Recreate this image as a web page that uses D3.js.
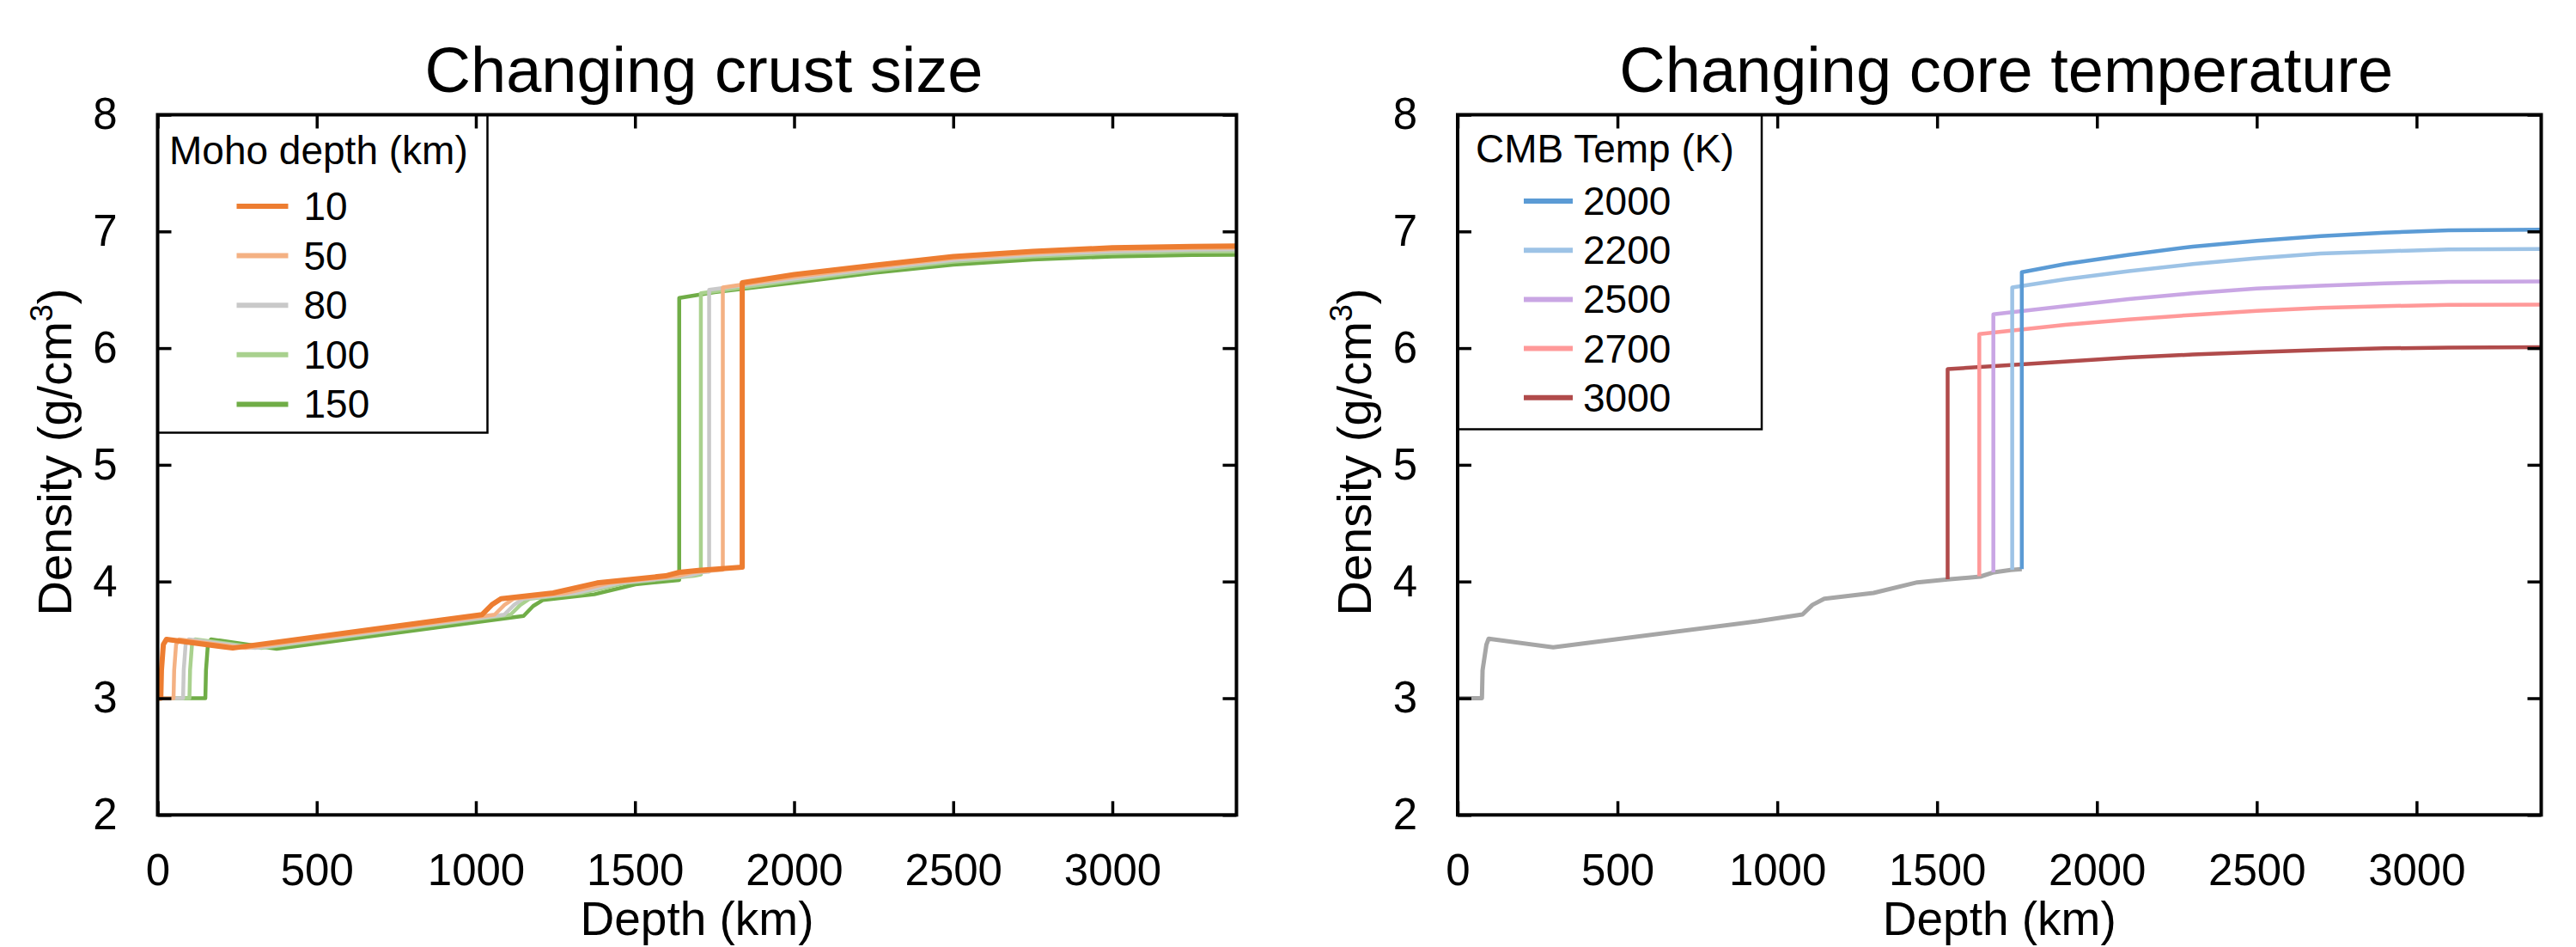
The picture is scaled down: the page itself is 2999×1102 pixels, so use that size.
<!DOCTYPE html>
<html>
<head>
<meta charset="utf-8">
<script src="https://cdn.jsdelivr.net/npm/d3@7"></script>
<style>
  body { margin: 0; background: #fff; }
  svg { display: block; font-family: "Liberation Sans", Arial, sans-serif; }
</style>
</head>
<body>
<svg id="chart" width="2999" height="1102"></svg>
<script>
// ---- data (depth km, density g/cm3) ----
const depthTicks = [0, 500, 1000, 1500, 2000, 2500, 3000];
const densityTicks = [2, 3, 4, 5, 6, 7, 8];

const mohoLabels = ["10", "50", "80", "100", "150"];
const mohoColors = ["#ED7D31", "#F4B183", "#C9C9C9", "#A9D18E", "#70AD47"];
const mohoWidths = [6, 4.5, 4.5, 4.5, 4.5];

const moho10 = [[0,3.0],[10,3.0],[12,3.24],[18,3.46],[28,3.505],[236,3.43],[1019,3.716],[1050,3.80],[1079,3.853],[1243,3.902],[1381,3.988],[1596,4.049],[1639,4.079],[1700,4.095],[1837,4.123],[1837,6.56],[2000,6.63],[2250,6.71],[2500,6.785],[2750,6.83],[3000,6.86],[3250,6.872],[3390,6.875]];
const moho50 = [[0,3.0],[50,3.0],[52,3.24],[58,3.46],[68,3.505],[276,3.43],[1059,3.716],[1090,3.80],[1119,3.853],[1283,3.902],[1421,3.988],[1636,4.049],[1679,4.079],[1776,4.10],[1776,6.52],[2000,6.61],[2250,6.695],[2500,6.77],[2750,6.815],[3000,6.845],[3250,6.858],[3390,6.86]];
const moho80 = [[0,3.0],[80,3.0],[82,3.24],[88,3.46],[98,3.505],[306,3.43],[1089,3.716],[1120,3.80],[1149,3.853],[1313,3.902],[1451,3.988],[1666,4.049],[1709,4.079],[1733,4.085],[1733,6.50],[2000,6.595],[2250,6.68],[2500,6.755],[2750,6.80],[3000,6.83],[3250,6.843],[3390,6.845]];
const moho100 = [[0,3.0],[100,3.0],[102,3.24],[108,3.46],[118,3.505],[326,3.43],[1109,3.716],[1140,3.80],[1169,3.853],[1333,3.902],[1471,3.988],[1686,4.049],[1707,4.06],[1707,6.47],[2000,6.58],[2250,6.665],[2500,6.74],[2750,6.785],[3000,6.815],[3250,6.828],[3390,6.83]];
const moho150 = [[0,3.0],[150,3.0],[152,3.24],[158,3.46],[168,3.505],[374,3.423],[1150,3.705],[1180,3.79],[1210,3.841],[1372,3.89],[1501,3.976],[1639,4.013],[1639,6.43],[1750,6.48],[2000,6.56],[2250,6.645],[2500,6.715],[2750,6.76],[3000,6.785],[3250,6.798],[3390,6.80]];
const mohoSeries = [moho10, moho50, moho80, moho100, moho150];

const cmbLabels = ["2000", "2200", "2500", "2700", "3000"];
const cmbColors = ["#5B9BD5", "#9DC3E6", "#C9A6E4", "#FF9999", "#B04B4B"];
const mantleColor = "#A6A6A6";

const mantleShared = [[0,3.0],[76,3.0],[78,3.24],[90,3.46],[97,3.51],[299,3.436],[941,3.661],[1079,3.718],[1110,3.80],[1147,3.853],[1301,3.902],[1438,3.993],[1533,4.018],[1635,4.042],[1678,4.079],[1730,4.099],[1765,4.106]];
const cmb2000 = [[1765,4.106],[1765,6.65],[1900,6.72],[2100,6.80],[2300,6.87],[2500,6.92],[2700,6.96],[2900,6.99],[3100,7.01],[3390,7.015]];
const cmb2200 = [[1735,4.10],[1735,6.52],[1900,6.59],[2100,6.66],[2300,6.72],[2500,6.77],[2700,6.81],[2900,6.83],[3100,6.845],[3390,6.85]];
const cmb2500 = [[1676,4.078],[1676,6.29],[1900,6.36],[2100,6.42],[2300,6.47],[2500,6.51],[2700,6.535],[2900,6.555],[3100,6.567],[3390,6.572]];
const cmb2700 = [[1632,4.045],[1632,6.12],[1900,6.20],[2100,6.245],[2300,6.285],[2500,6.32],[2700,6.345],[2900,6.36],[3100,6.37],[3390,6.373]];
const cmb3000 = [[1533,4.02],[1533,5.82],[1700,5.85],[1900,5.885],[2100,5.92],[2300,5.945],[2500,5.965],[2700,5.985],[2900,5.998],[3100,6.005],[3390,6.008]];
const cmbSeries = [cmb2000, cmb2200, cmb2500, cmb2700, cmb3000];

// ---- drawing ----
const svg = d3.select("#chart");
svg.append("rect").attr("width", 2999).attr("height", 1102).attr("fill", "#fff");

function drawPanel(opt) {
  const x = d3.scaleLinear().domain([0, 3390]).range([opt.left, opt.right]);
  const y = d3.scaleLinear().domain([2, 8]).range([opt.bottom, opt.top]);
  const line = d3.line().x((d) => x(d[0])).y((d) => y(d[1]));
  const g = svg.append("g");

  // lines, drawn last series first so the first one sits on top
  if (opt.under) {
    g.append("path").datum(opt.under).attr("d", line)
      .attr("fill", "none").attr("stroke", mantleColor).attr("stroke-width", 5)
      .attr("stroke-linejoin", "round");
  }
  for (let i = opt.series.length - 1; i >= 0; i--) {
    g.append("path").datum(opt.series[i]).attr("d", line)
      .attr("fill", "none").attr("stroke", opt.colors[i])
      .attr("stroke-width", opt.widths ? opt.widths[i] : 4.5)
      .attr("stroke-linejoin", "round");
  }

  // legend
  const lg = g.append("g");
  lg.append("rect")
    .attr("x", opt.left).attr("y", opt.top)
    .attr("width", opt.legend.w).attr("height", opt.legend.h)
    .attr("fill", "#fff").attr("stroke", "#000").attr("stroke-width", 2.5);
  lg.append("text")
    .attr("x", opt.left + opt.legend.titleX).attr("y", opt.legend.titleY)
    .attr("font-size", 46).text(opt.legend.title);
  opt.labels.forEach(function (lab, i) {
    const by = opt.legend.itemY + i * opt.legend.step;
    lg.append("line")
      .attr("x1", opt.left + opt.legend.lineX0).attr("x2", opt.left + opt.legend.lineX1)
      .attr("y1", by - 16).attr("y2", by - 16)
      .attr("stroke", opt.colors[i]).attr("stroke-width", 6);
    lg.append("text")
      .attr("x", opt.left + opt.legend.textX).attr("y", by)
      .attr("font-size", 46).text(lab);
  });

  // axes, ticks pointing inward on all four sides
  function style(sel) {
    sel.select(".domain").remove();
    sel.selectAll(".tick line").attr("stroke", "#000").attr("stroke-width", 3.5);
    sel.selectAll("text").attr("font-size", 51).attr("fill", "#000")
      .attr("font-family", "Liberation Sans, Arial, sans-serif");
    sel.attr("font-family", null).attr("font-size", null);
  }
  const fmt = d3.format("d");
  g.append("g").attr("transform", `translate(0,${opt.bottom})`)
    .call(d3.axisBottom(x).tickValues(depthTicks).tickFormat(fmt)
      .tickSize(-16).tickPadding(45).tickSizeOuter(0))
    .call(style);
  g.append("g").attr("transform", `translate(0,${opt.top})`)
    .call(d3.axisTop(x).tickValues(depthTicks).tickSize(-16).tickFormat("").tickSizeOuter(0))
    .call(style);
  g.append("g").attr("transform", `translate(${opt.left},0)`)
    .call(d3.axisLeft(y).tickValues(densityTicks).tickFormat(fmt)
      .tickSize(-16).tickPadding(47).tickSizeOuter(0))
    .call(style);
  g.append("g").attr("transform", `translate(${opt.right},0)`)
    .call(d3.axisRight(y).tickValues(densityTicks).tickSize(-16).tickFormat("").tickSizeOuter(0))
    .call(style);

  g.append("rect")
    .attr("x", opt.left).attr("y", opt.top)
    .attr("width", opt.right - opt.left).attr("height", opt.bottom - opt.top)
    .attr("fill", "none").attr("stroke", "#000").attr("stroke-width", 4);

  // titles
  const cx = (opt.left + opt.right) / 2;
  g.append("text").attr("x", cx + 8).attr("y", 107)
    .attr("text-anchor", "middle").attr("font-size", 74).text(opt.title);
  g.append("text").attr("x", cx).attr("y", 1088)
    .attr("text-anchor", "middle").attr("font-size", 55).text("Depth (km)");
  const yl = g.append("text")
    .attr("transform", `translate(${opt.left - 101},526) rotate(-90)`)
    .attr("text-anchor", "middle").attr("font-size", 56);
  yl.append("tspan").text("Density (g/cm");
  yl.append("tspan").attr("font-size", 36).attr("dy", -22).text("3");
  yl.append("tspan").attr("dy", 22).text(")");
}

drawPanel({
  left: 183.5, right: 1439.5, top: 133.5, bottom: 948.3,
  title: "Changing crust size",
  series: mohoSeries, colors: mohoColors, widths: mohoWidths, labels: mohoLabels,
  legend: { w: 384, h: 370, title: "Moho depth (km)", titleX: 13.5, titleY: 191,
    itemY: 256, step: 57.6, lineX0: 92, lineX1: 152, textX: 170 },
});

drawPanel({
  left: 1697, right: 2958.5, top: 133.5, bottom: 948.3,
  title: "Changing core temperature",
  under: mantleShared,
  series: cmbSeries, colors: cmbColors, labels: cmbLabels,
  legend: { w: 354, h: 366, title: "CMB Temp (K)", titleX: 21, titleY: 189,
    itemY: 250, step: 57.2, lineX0: 77, lineX1: 134, textX: 146 },
});
</script>
</body>
</html>
